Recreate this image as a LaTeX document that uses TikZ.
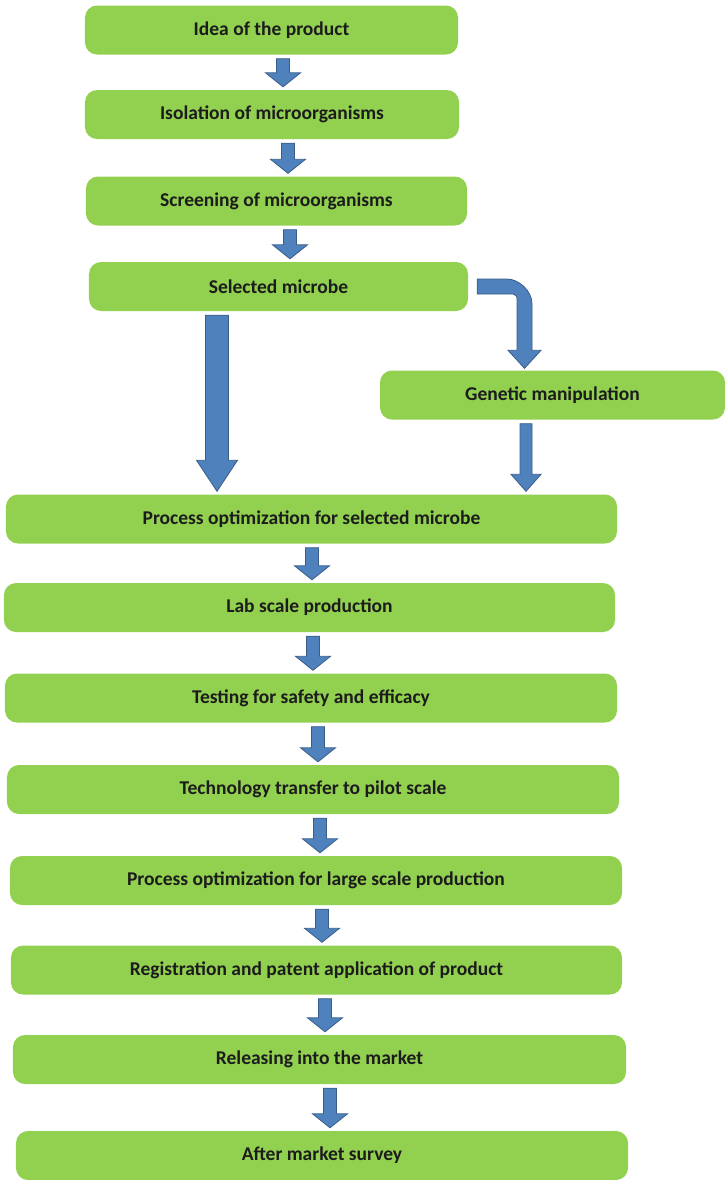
\documentclass[tikz,border=0pt]{standalone}
\usepackage{fontspec}
\setmainfont{Carlito}
\usetikzlibrary{calc}

\definecolor{boxgreen}{HTML}{92D050}
\definecolor{arrowblue}{HTML}{4F81BD}
\definecolor{arrowedge}{HTML}{385D8A}
\definecolor{textdark}{HTML}{1C1C1C}

\tikzset{
  stage/.style={fill=boxgreen, rounded corners=12bp, inner sep=0pt,
    minimum height=49bp, text=textdark, font=\fontsize{19.5bp}{22bp}\selectfont\bfseries},
  blockarrow/.style={fill=arrowblue, draw=arrowedge, line width=0.8bp, line join=miter},
}

% vertical block arrow: from node, to node, x position, shaft width, head width, head length
\newcommand{\blockarrow}[6]{%
  \path[blockarrow] let \p1=(#1.south), \p2=(#2.north), \p3=(#3,0) in
    (\x3-#4/2,\y1-4bp) -- (\x3+#4/2,\y1-4bp) -- (\x3+#4/2,\y2+3bp+#6)
    -- (\x3+#5/2,\y2+3bp+#6) -- (\x3,\y2+3bp) -- (\x3-#5/2,\y2+3bp+#6)
    -- (\x3-#4/2,\y2+3bp+#6) -- cycle;}

\begin{document}
\begin{tikzpicture}[x=1bp, y=-1bp]
\useasboundingbox (0,0) rectangle (726,1180);

% main chain of stages
\node[stage, minimum width=373bp] (idea) at (271.5,30)   {Idea of the product};
\node[stage, minimum width=374bp] (iso)  at (272,114.5)  {Isolation of microorganisms};
\node[stage, minimum width=381bp] (scr)  at (276.5,201)  {Screening of microorganisms};
\node[stage, minimum width=379bp] (sel)  at (278.5,286.5){Selected microbe};
\node[stage, minimum width=345bp] (gen)  at (552.5,395)  {Genetic manipulation};
\node[stage, minimum width=611bp] (pos)  at (311.5,519)  {Process optimization for selected microbe};
\node[stage, minimum width=611bp] (lab)  at (309.5,607.5){Lab scale production};
\node[stage, minimum width=612bp] (test) at (311,698)    {Testing for safety and efficacy};
\node[stage, minimum width=612bp] (tech) at (313,789.5)  {Technology transfer to pilot scale};
\node[stage, minimum width=612bp] (pol)  at (316,880.5)  {Process optimization for large scale production};
\node[stage, minimum width=611bp] (reg)  at (316.5,970)  {Registration and patent application of product};
\node[stage, minimum width=613bp] (rel)  at (319.5,1059.5){Releasing into the market};
\node[stage, minimum width=612bp] (aft)  at (322,1155.5) {After market survey};

% short connectors
\blockarrow{idea}{iso}{283}{13bp}{35bp}{14bp}
\blockarrow{iso}{scr}{288}{13bp}{35bp}{14bp}
\blockarrow{scr}{sel}{290}{13bp}{35bp}{14bp}
\blockarrow{pos}{lab}{312}{13bp}{35bp}{14bp}
\blockarrow{lab}{test}{313}{13bp}{35bp}{14bp}
\blockarrow{test}{tech}{318}{13bp}{35bp}{14bp}
\blockarrow{tech}{pol}{320}{13bp}{35bp}{14bp}
\blockarrow{pol}{reg}{322}{13bp}{35bp}{14bp}
\blockarrow{reg}{rel}{325}{13bp}{35bp}{14bp}
\blockarrow{rel}{aft}{330}{13bp}{35bp}{14bp}

% long connector and the one from the genetic branch
\blockarrow{sel}{pos}{217}{23bp}{41bp}{31bp}
\blockarrow{gen}{pos}{526}{12bp}{30bp}{17bp}

% bent connector into the genetic branch
\path[blockarrow] let \p1=(sel.east), \p2=(gen.north -| 524.5,0) in
  (\x1+9bp,\y1+7.5bp) -- (\x2-17.5bp,\y1+7.5bp)
  .. controls (\x2-6bp,\y1+7.5bp) and (\x2+7.5bp,\y1-4bp) .. (\x2+7.5bp,\y1-17.5bp)
  -- (\x2+7.5bp,\y2+20bp) -- (\x2+16.5bp,\y2+20bp) -- (\x2,\y2+2bp)
  -- (\x2-16.5bp,\y2+20bp) -- (\x2-7.5bp,\y2+20bp) -- (\x2-7.5bp,\y1-13.5bp)
  .. controls (\x2-7.5bp,\y1-9.5bp) .. (\x2-11.5bp,\y1-7.5bp)
  -- (\x1+9bp,\y1-7.5bp) -- cycle;
\end{tikzpicture}
\end{document}
